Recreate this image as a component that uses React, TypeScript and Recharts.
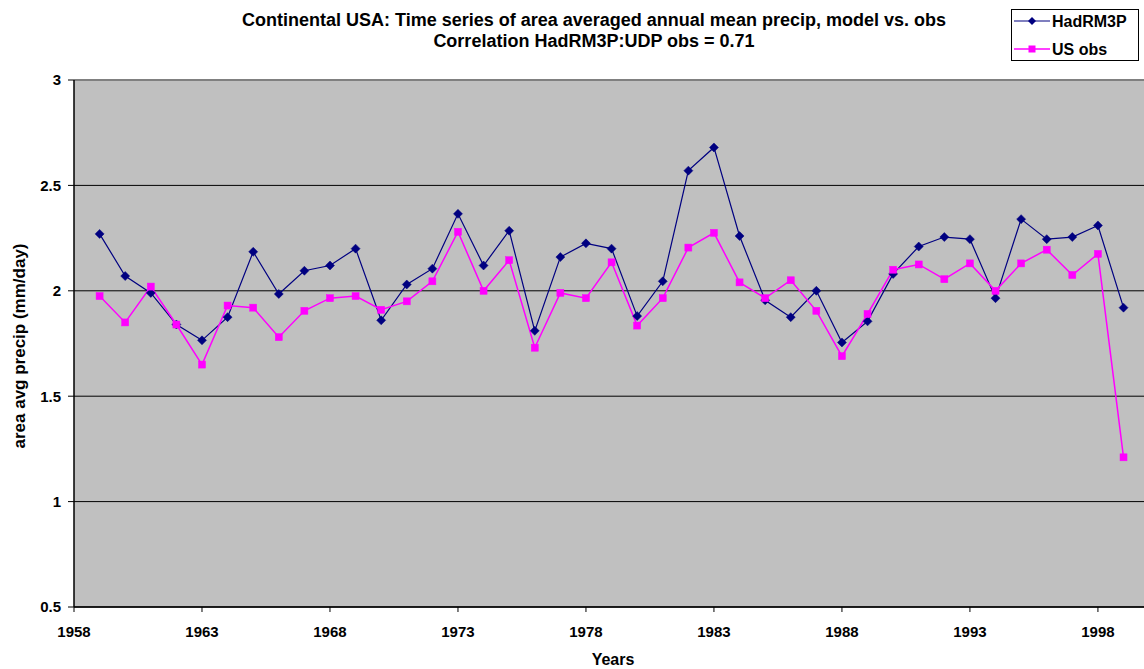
import React from 'react';
import { LineChart, Line, XAxis, YAxis, CartesianGrid, ReferenceLine } from 'recharts';

const years = [1959, 1960, 1961, 1962, 1963, 1964, 1965, 1966, 1967, 1968, 1969, 1970, 1971, 1972, 1973, 1974, 1975, 1976, 1977, 1978, 1979, 1980, 1981, 1982, 1983, 1984, 1985, 1986, 1987, 1988, 1989, 1990, 1991, 1992, 1993, 1994, 1995, 1996, 1997, 1998, 1999];

const hadRM3P = [2.27, 2.07, 1.99, 1.84, 1.765, 1.875, 2.185, 1.985, 2.095, 2.12, 2.2, 1.86, 2.03, 2.105, 2.365, 2.12, 2.285, 1.81, 2.16, 2.225, 2.2, 1.88, 2.045, 2.57, 2.68, 2.26, 1.955, 1.875, 2.0, 1.755, 1.855, 2.08, 2.21, 2.255, 2.245, 1.965, 2.34, 2.245, 2.255, 2.31, 1.92];

const usObs = [1.975, 1.85, 2.02, 1.84, 1.65, 1.93, 1.92, 1.78, 1.905, 1.965, 1.975, 1.91, 1.95, 2.045, 2.28, 2.0, 2.145, 1.73, 1.99, 1.965, 2.135, 1.835, 1.965, 2.205, 2.275, 2.04, 1.965, 2.05, 1.905, 1.69, 1.89, 2.1, 2.125, 2.055, 2.13, 2.0, 2.13, 2.195, 2.075, 2.175, 1.21];

const xTicks = [1958, 1963, 1968, 1973, 1978, 1983, 1988, 1993, 1998];
const yTicks = [0.5, 1, 1.5, 2, 2.5, 3];

const titleLine1 = 'Continental USA: Time series of area averaged annual mean precip, model vs. obs';
const titleLine2 = 'Correlation HadRM3P:UDP obs = 0.71';
const yTitle = 'area avg precip (mm/day)';
const xTitle = 'Years';
const seriesNames = ['HadRM3P', 'US obs'];

const NAVY = '#000080';
const MAGENTA = '#FF00FF';
const FONT = '"Liberation Sans", Arial, sans-serif';

const data = years.map((y, i) => ({ year: y, had: hadRM3P[i], obs: usObs[i] }));

const Diamond = (props: any) => {
  const { cx, cy, index } = props;
  if (cx == null || cy == null) return <g key={`d${index}`} />;
  const r = 4.5;
  return (
    <path
      key={`d${index}`}
      d={`M${cx},${cy - r}L${cx + r},${cy}L${cx},${cy + r}L${cx - r},${cy}Z`}
      fill={NAVY}
      stroke={NAVY}
      strokeWidth={0.5}
    />
  );
};

const Square = (props: any) => {
  const { cx, cy, index } = props;
  if (cx == null || cy == null) return <g key={`s${index}`} />;
  const s = 7;
  return <rect key={`s${index}`} x={cx - s / 2} y={cy - s / 2} width={s} height={s} fill={MAGENTA} stroke={MAGENTA} strokeWidth={0.5} />;
};

export default function App() {
  return (
    <div style={{ position: 'absolute', left: 0, top: 0, width: 1144, height: 669, background: '#fff', overflow: 'hidden' }}>
      <LineChart width={1144} height={669} data={data} margin={{ top: 80, right: 0, bottom: 0, left: 0 }}>
        <CartesianGrid horizontal={true} vertical={false} stroke="#000" strokeOpacity={1} fill="#C0C0C0" fillOpacity={1} />
        <XAxis
          dataKey="year"
          type="number"
          domain={[1958, 1999.8]}
          ticks={xTicks}
          allowDataOverflow
          height={62}
          axisLine={{ stroke: '#000', strokeWidth: 1.5 }}
          tickLine={{ stroke: '#000' }}
          tickSize={5}
          tickMargin={14}
          tick={{ fill: '#000', fontSize: 15, fontWeight: 'bold', fontFamily: FONT }}
          interval={0}
        />
        <YAxis
          type="number"
          domain={[0.5, 3]}
          ticks={yTicks}
          width={74}
          allowDataOverflow
          axisLine={{ stroke: '#000', strokeWidth: 1.5 }}
          tickLine={{ stroke: '#000' }}
          tickSize={6}
          tickMargin={7}
          tick={{ fill: '#000', fontSize: 15, fontWeight: 'bold', fontFamily: FONT }}
          interval={0}
        />
        <ReferenceLine y={3} stroke="#808080" strokeWidth={2} />
        <Line
          dataKey="had"
          name={seriesNames[0]}
          stroke={NAVY}
          strokeWidth={1.2}
          dot={Diamond}
          activeDot={false}
          isAnimationActive={false}
        />
        <Line
          dataKey="obs"
          name={seriesNames[1]}
          stroke={MAGENTA}
          strokeWidth={1.5}
          dot={Square}
          activeDot={false}
          isAnimationActive={false}
        />
      </LineChart>
      <svg width={1144} height={669} style={{ position: 'absolute', left: 0, top: 0, pointerEvents: 'none' }}>
        <g fontFamily={FONT} fontWeight="bold" fill="#000">
          <text x={594} y={26} fontSize={18} textAnchor="middle">{titleLine1}</text>
          <text x={594} y={47} fontSize={18} textAnchor="middle">{titleLine2}</text>
          <text x={613} y={665} fontSize={16} textAnchor="middle">{xTitle}</text>
          <text transform="translate(25,346) rotate(-90)" fontSize={17} textAnchor="middle">{yTitle}</text>
        </g>
        <rect x={1011.5} y={9.5} width={127} height={51} fill="#fff" stroke="#000" strokeWidth={1} />
        <line x1={1014} y1={21} x2={1050} y2={21} stroke={NAVY} strokeWidth={1.2} />
        <path d="M1032,17L1036,21L1032,25L1028,21Z" fill={NAVY} />
        <line x1={1014} y1={49} x2={1050} y2={49} stroke={MAGENTA} strokeWidth={1.5} />
        <rect x={1028.5} y={45.5} width={7} height={7} fill={MAGENTA} />
        <g fontFamily={FONT} fontWeight="bold" fill="#000" fontSize={16}>
          <text x={1052} y={27}>{seriesNames[0]}</text>
          <text x={1052} y={55}>{seriesNames[1]}</text>
        </g>
      </svg>
    </div>
  );
}
